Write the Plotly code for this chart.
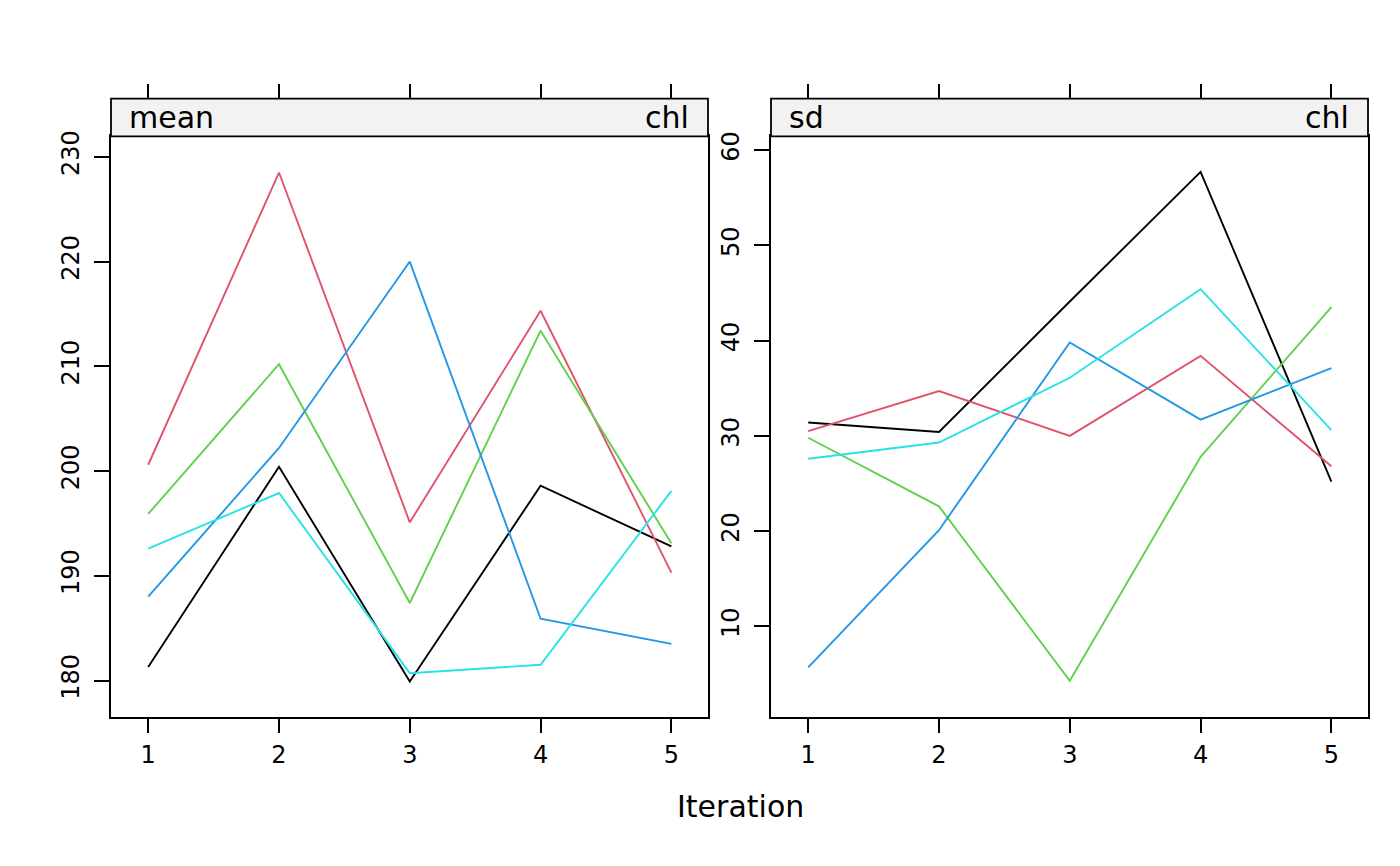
import plotly.graph_objects as go

iterations = [1, 2, 3, 4, 5]
chain_colors = ["#000000", "#DF536B", "#61D04F", "#2297E6", "#28E2E5"]

mean_chl = [
    [181.3, 200.4, 179.9, 198.6, 192.8],
    [200.6, 228.5, 195.1, 215.3, 190.3],
    [195.9, 210.2, 187.4, 213.4, 193.1],
    [188.0, 202.2, 220.0, 185.9, 183.5],
    [192.6, 197.9, 180.7, 181.5, 198.1],
]
sd_chl = [
    [31.4, 30.4, 44.1, 57.7, 25.2],
    [30.5, 34.7, 30.0, 38.4, 26.8],
    [29.8, 22.6, 4.3, 27.8, 43.5],
    [5.7, 20.1, 39.8, 31.7, 37.1],
    [27.6, 29.3, 36.1, 45.4, 30.6],
]
x_ticks = [1, 2, 3, 4, 5]
mean_ticks = [180, 190, 200, 210, 220, 230]
sd_ticks = [10, 20, 30, 40, 50, 60]
panel_labels = [("mean", "chl"), ("sd", "chl")]

W, H = 1400, 866
FONT = "DejaVu Sans"

def px(x):
    return x / W

def py(y):
    return 1 - y / H

dom_left = [px(111), px(708)]
dom_right = [px(771), px(1368)]
ydom = [py(715.5), py(131.3)]
strip_top = py(93.3)
xrange_ = [0.7155, 5.28]
LW = 1.9

fig = go.Figure()
for i in range(5):
    fig.add_trace(go.Scatter(x=iterations, y=mean_chl[i], mode="lines",
                             line=dict(color=chain_colors[i], width=LW),
                             xaxis="x", yaxis="y", showlegend=False))
for i in range(5):
    fig.add_trace(go.Scatter(x=iterations, y=sd_chl[i], mode="lines",
                             line=dict(color=chain_colors[i], width=LW),
                             xaxis="x2", yaxis="y2", showlegend=False))
fig.add_trace(go.Scatter(x=[], y=[], xaxis="x3", yaxis="y", showlegend=False))
fig.add_trace(go.Scatter(x=[], y=[], xaxis="x4", yaxis="y2", showlegend=False))

tickfont = dict(family=FONT, size=24, color="black")
common_x = dict(range=xrange_, tickvals=x_ticks, ticks="outside", ticklen=15,
                tickwidth=1.8, tickcolor="black", showgrid=False, zeroline=False,
                showline=True, linecolor="black", linewidth=1.8, mirror=True,
                tickfont=tickfont, ticklabelstandoff=1)
common_y = dict(ticks="outside", ticklen=15, tickwidth=1.8, tickcolor="black",
                showgrid=False, zeroline=False, showline=True, linecolor="black",
                linewidth=1.8, mirror=True, tickfont=tickfont, tickangle=-90,
                ticklabelstandoff=6)
top_x = dict(range=xrange_, tickvals=x_ticks, ticks="outside", ticklen=15,
             tickwidth=1.8, tickcolor="black", showticklabels=False,
             showgrid=False, zeroline=False, showline=False,
             anchor="free", position=strip_top, side="top")

fig.update_layout(
    width=W, height=H, margin=dict(l=0, r=0, t=0, b=0),
    paper_bgcolor="white", plot_bgcolor="white",
    xaxis=dict(domain=dom_left, anchor="y", **common_x),
    yaxis=dict(domain=ydom, anchor="x", range=[176.56, 231.95],
               tickvals=mean_ticks, **common_y),
    xaxis2=dict(domain=dom_right, anchor="y2", **common_x),
    yaxis2=dict(domain=ydom, anchor="x2", range=[0.54, 61.43],
                tickvals=sd_ticks, **common_y),
    xaxis3=dict(domain=dom_left, overlaying="x", **top_x),
    xaxis4=dict(domain=dom_right, overlaying="x2", **top_x),
)

shapes = []
annotations = []
for dom, (lab_l, lab_r) in zip([dom_left, dom_right], panel_labels):
    shapes.append(dict(type="rect", xref="paper", yref="paper",
                       x0=dom[0], x1=dom[1], y0=ydom[1], y1=strip_top,
                       fillcolor="#F2F2F2", line=dict(color="black", width=1.8),
                       layer="above"))
    annotations.append(dict(text=lab_l, xref="paper", yref="paper",
                            x=dom[0] + px(16), y=py(112.3), xanchor="left",
                            yanchor="middle", showarrow=False,
                            font=dict(family=FONT, size=30, color="black")))
    annotations.append(dict(text=lab_r, xref="paper", yref="paper",
                            x=dom[1] - px(17), y=py(112.3), xanchor="right",
                            yanchor="middle", showarrow=False,
                            font=dict(family=FONT, size=30, color="black")))
annotations.append(dict(text="Iteration", xref="paper", yref="paper",
                        x=px(740), y=py(806), xanchor="center", yanchor="middle",
                        showarrow=False,
                        font=dict(family=FONT, size=30, color="black")))
fig.update_layout(shapes=shapes, annotations=annotations)

fig.write_html("out.html", config={"displayModeBar": False},
               post_script="document.body.style.margin='0';document.body.style.overflow='hidden';")
